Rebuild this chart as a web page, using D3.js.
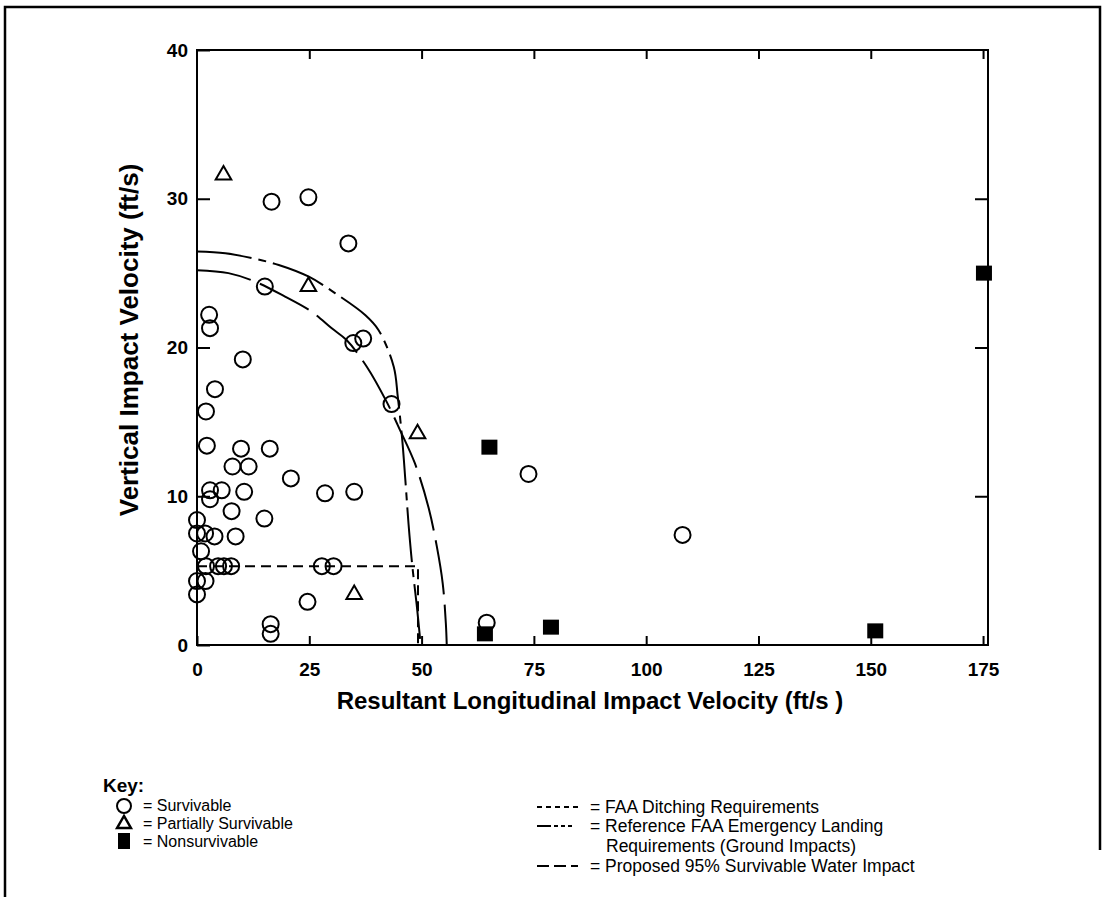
<!DOCTYPE html>
<html>
<head>
<meta charset="utf-8">
<script src="https://cdnjs.cloudflare.com/ajax/libs/d3/7.8.5/d3.min.js"></script>
<style>
  body { margin: 0; background: #fff; }
  svg { display: block; }
  .tick text { font-family: "Liberation Sans", Arial, Helvetica, sans-serif; font-weight: bold; font-size: 19px; fill: #000; }
  .axis path, .axis line { stroke: #000; stroke-width: 2; }
</style>
</head>
<body>
<script>
// impact data, [longitudinal ft/s, vertical ft/s]
var survivable = [
  [16.6, 29.8], [24.8, 30.1], [33.7, 27.0], [15.1, 24.1], [2.7, 22.2], [2.9, 21.3],
  [34.8, 20.3], [37.0, 20.6], [10.2, 19.2], [4.0, 17.2], [43.3, 16.2], [2.0, 15.7],
  [9.8, 13.2], [16.2, 13.2], [2.2, 13.4], [7.9, 12.0], [11.5, 12.0], [20.9, 11.2],
  [2.9, 10.4], [5.5, 10.4], [2.9, 9.8], [10.5, 10.3], [28.5, 10.2], [35.0, 10.3],
  [7.7, 9.0], [15.0, 8.5], [0, 8.4], [0, 7.5], [1.8, 7.5], [3.9, 7.3], [8.6, 7.3],
  [0.9, 6.3], [2.0, 5.3], [4.7, 5.3], [6.0, 5.3], [7.6, 5.3], [27.8, 5.3], [30.4, 5.3],
  [0, 4.3], [1.9, 4.3], [0, 3.4], [24.6, 2.9], [16.4, 1.4], [16.4, 0.75],
  [64.5, 1.5], [73.8, 11.5], [108.1, 7.4]
];
var partial = [[5.9, 31.6], [24.8, 24.1], [49.1, 14.2], [35.0, 3.4]];
var nonsurvivable = [[65.1, 13.3], [64.1, 0.75], [78.8, 1.2], [151.0, 0.95], [175.2, 25.0]];

// requirement curves
var ditching = [[0, 5.3], [49.2, 5.3], [49.2, 0]];
var refGround = [
  [0, 26.45], [6.3, 26.33], [12.3, 26.0], [18.2, 25.55], [24.9, 24.76], [30.8, 23.64],
  [37.5, 22.17], [40.4, 21.18], [43.8, 18.71], [44.7, 16.69], [45.7, 13.77], [46.4, 11.03],
  [47.1, 8.12], [47.9, 5.42], [48.9, 2.73], [49.8, 0]
];
var proposedWater = [
  [0, 25.2], [7.0, 25.0], [12.9, 24.43], [19.6, 23.42], [25.5, 22.41], [30.0, 21.29],
  [33.3, 20.5], [37.8, 18.71], [42.2, 16.36], [45.2, 14.45], [48.5, 12.22], [51.5, 9.3],
  [53.4, 6.61], [54.7, 4.15], [55.4, 1.46], [55.6, 0]
];

var xTicks = [0, 25, 50, 75, 100, 125, 150, 175];
var yTicks = [0, 10, 20, 30, 40];

var W = 1106, H = 897;
var svg = d3.select("body").append("svg").attr("width", W).attr("height", H);

// outer frame
svg.append("path")
  .attr("d", "M5,897 L5,7 L1100,7 L1100,850")
  .attr("fill", "none").attr("stroke", "#000").attr("stroke-width", 2.5);

var x = d3.scaleLinear().domain([0, 176.1]).range([197, 988]);
var y = d3.scaleLinear().domain([0, 40]).range([645, 50]);

// plot box
svg.append("rect")
  .attr("x", x(0)).attr("y", y(40))
  .attr("width", x(176.1) - x(0)).attr("height", y(0) - y(40))
  .attr("fill", "none").attr("stroke", "#000").attr("stroke-width", 2);

svg.append("g").attr("class", "axis")
  .attr("transform", "translate(0," + y(0) + ")")
  .call(d3.axisBottom(x).tickValues(xTicks).tickSize(-9).tickPadding(18).tickSizeOuter(0));
svg.append("g").attr("class", "axis")
  .attr("transform", "translate(" + x(0) + ",0)")
  .call(d3.axisLeft(y).tickValues(yTicks).tickSize(-13).tickPadding(9).tickSizeOuter(0));
svg.append("g").attr("class", "axis")
  .attr("transform", "translate(0," + y(40) + ")")
  .call(d3.axisTop(x).tickValues(xTicks.slice(1)).tickSize(-9).tickFormat("").tickSizeOuter(0));
svg.append("g").attr("class", "axis")
  .attr("transform", "translate(" + x(176.1) + ",0)")
  .call(d3.axisRight(y).tickValues([10, 20, 30]).tickSize(-13).tickFormat("").tickSizeOuter(0));
svg.selectAll(".axis .domain").remove();

// axis titles
svg.append("text")
  .attr("x", 590).attr("y", 709)
  .attr("text-anchor", "middle")
  .style("font-family", "Liberation Sans, Arial, sans-serif")
  .style("font-weight", "bold").style("font-size", "24px")
  .text("Resultant Longitudinal Impact Velocity  (ft/s )");
svg.append("text")
  .attr("transform", "translate(138,340) rotate(-90)")
  .attr("text-anchor", "middle")
  .style("font-family", "Liberation Sans, Arial, sans-serif")
  .style("font-weight", "bold").style("font-size", "26px")
  .text("Vertical Impact Velocity (ft/s)");

var line = d3.line().x(function(d) { return x(d[0]); }).y(function(d) { return y(d[1]); });
var curve = d3.line().curve(d3.curveCatmullRom)
  .x(function(d) { return x(d[0]); }).y(function(d) { return y(d[1]); });

svg.append("path").datum(ditching).attr("d", line)
  .attr("fill", "none").attr("stroke", "#000").attr("stroke-width", 2)
  .attr("stroke-dasharray", "10,6");
svg.append("path").datum(refGround).attr("d", curve)
  .attr("fill", "none").attr("stroke", "#000").attr("stroke-width", 2)
  .attr("stroke-dasharray", "55,7,8,7");
svg.append("path").datum(proposedWater).attr("d", curve)
  .attr("fill", "none").attr("stroke", "#000").attr("stroke-width", 2)
  .attr("stroke-dasharray", "55,10");

// markers
svg.selectAll("circle.surv").data(survivable).enter().append("circle")
  .attr("class", "surv")
  .attr("cx", function(d) { return x(d[0]); })
  .attr("cy", function(d) { return y(d[1]); })
  .attr("r", 8)
  .attr("fill", "none").attr("stroke", "#000").attr("stroke-width", 2);

var tri = d3.symbol().type(d3.symbolTriangle).size(105);
svg.selectAll("path.part").data(partial).enter().append("path")
  .attr("class", "part")
  .attr("d", tri)
  .attr("transform", function(d) { return "translate(" + x(d[0]) + "," + y(d[1]) + ")"; })
  .attr("fill", "none").attr("stroke", "#000").attr("stroke-width", 2);

svg.selectAll("rect.non").data(nonsurvivable).enter().append("rect")
  .attr("class", "non")
  .attr("x", function(d) { return x(d[0]) - 8; })
  .attr("y", function(d) { return y(d[1]) - 7.5; })
  .attr("width", 16).attr("height", 15)
  .attr("fill", "#000");

// key
var key = svg.append("g")
  .style("font-family", "Liberation Sans, Arial, sans-serif")
  .style("font-size", "16px");
key.append("text").attr("x", 103).attr("y", 792)
  .style("font-weight", "bold").style("font-size", "19px").text("Key:");

key.append("circle").attr("cx", 124).attr("cy", 806).attr("r", 7)
  .attr("fill", "none").attr("stroke", "#000").attr("stroke-width", 2);
key.append("path").attr("d", d3.symbol().type(d3.symbolTriangle).size(85))
  .attr("transform", "translate(124,824)")
  .attr("fill", "none").attr("stroke", "#000").attr("stroke-width", 2.4);
key.append("rect").attr("x", 118).attr("y", 833).attr("width", 12).attr("height", 16).attr("fill", "#000");

key.append("text").attr("x", 143).attr("y", 811).text("= Survivable");
key.append("text").attr("x", 143).attr("y", 829).text("= Partially Survivable");
key.append("text").attr("x", 143).attr("y", 847).text("= Nonsurvivable");

var samples = [
  { y: 807, dash: "5,4" },
  { y: 826, dash: "14,3,4,3,4,3,4" },
  { y: 866, dash: "12,5" }
];
key.selectAll("line.sample").data(samples).enter().append("line")
  .attr("class", "sample")
  .attr("x1", 537).attr("x2", 578)
  .attr("y1", function(d) { return d.y; }).attr("y2", function(d) { return d.y; })
  .attr("stroke", "#000").attr("stroke-width", 2)
  .attr("stroke-dasharray", function(d) { return d.dash; });

var right = key.append("g").style("font-size", "17.5px");
right.append("text").attr("x", 590).attr("y", 813).text("= FAA Ditching Requirements");
right.append("text").attr("x", 590).attr("y", 832).text("= Reference FAA Emergency Landing");
right.append("text").attr("x", 606).attr("y", 852).text("Requirements (Ground Impacts)");
right.append("text").attr("x", 590).attr("y", 872).text("= Proposed 95% Survivable Water Impact");
</script>
</body>
</html>
